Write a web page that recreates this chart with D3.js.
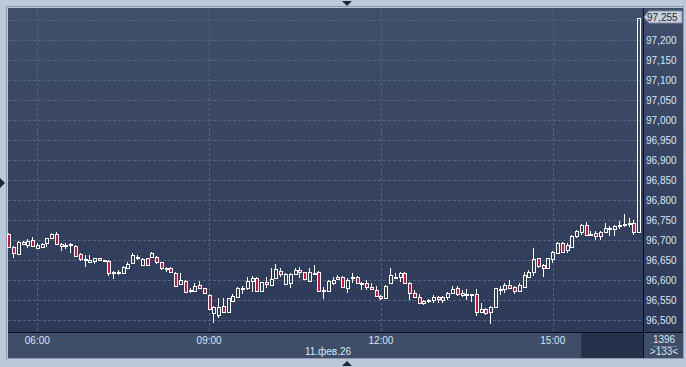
<!DOCTYPE html>
<html>
<head>
<meta charset="utf-8">
<script src="https://cdn.jsdelivr.net/npm/d3@7"></script>
<style>
    body { margin: 0; background: #bdc8d8; }
    svg { display: block; }
    text { font-family: "Liberation Sans", Arial, sans-serif; }
</style>
</head>
<body>
<script>

// 5-minute bars, 11.02.2026, 05:30 .. 16:30
var opens = [96715, 96683, 96664, 96695, 96687, 96700, 96679, 96683, 96693, 96704,
    96715, 96690, 96685, 96690, 96685, 96665, 96652, 96646, 96648, 96654,
    96649, 96648, 96618, 96619, 96617, 96629, 96643, 96658, 96637, 96654,
    96657, 96658, 96644, 96629, 96630, 96618, 96589, 96598, 96573, 96573,
    96588, 96579, 96563, 96518, 96512, 96535, 96521, 96548, 96558, 96578,
    96579, 96598, 96604, 96573, 96595, 96587, 96604, 96623, 96590, 96592,
    96615, 96625, 96619, 96598, 96616, 96619, 96573, 96572, 96592, 96602,
    96607, 96579, 96606, 96607, 96591, 96593, 96582, 96575, 96560, 96554,
    96592, 96608, 96607, 96617, 96592, 96568, 96557, 96543, 96548, 96550,
    96557, 96550, 96558, 96567, 96579, 96568, 96564, 96565, 96564, 96521,
    96527, 96521, 96532, 96576, 96577, 96587, 96582, 96573, 96583, 96608,
    96621, 96654, 96637, 96629, 96652, 96668, 96693, 96675, 96683, 96710,
    96721, 96738, 96714, 96717, 96710, 96721, 96730, 96727, 96737, 96739,
    96741, 96742, 96721];
var highs = [96718, 96685, 96698, 96698, 96702, 96708, 96692, 96693, 96706, 96718,
    96720, 96692, 96693, 96692, 96687, 96667, 96663, 96663, 96656, 96656,
    96650, 96650, 96623, 96625, 96634, 96644, 96667, 96662, 96655, 96656,
    96671, 96660, 96646, 96633, 96632, 96620, 96617, 96600, 96579, 96592,
    96598, 96581, 96565, 96535, 96554, 96554, 96556, 96565, 96582, 96585,
    96608, 96610, 96608, 96596, 96608, 96629, 96640, 96629, 96617, 96617,
    96631, 96632, 96621, 96629, 96637, 96623, 96583, 96600, 96608, 96612,
    96610, 96604, 96617, 96610, 96596, 96600, 96593, 96586, 96562, 96587,
    96629, 96617, 96619, 96619, 96594, 96575, 96565, 96550, 96552, 96563,
    96560, 96560, 96569, 96585, 96585, 96575, 96577, 96566, 96577, 96542,
    96529, 96534, 96581, 96585, 96592, 96600, 96584, 96592, 96621, 96625,
    96679, 96656, 96640, 96656, 96673, 96695, 96695, 96692, 96712, 96725,
    96740, 96746, 96723, 96723, 96723, 96742, 96735, 96738, 96748, 96765,
    96754, 96750, 97255];
var lows = [96680, 96654, 96662, 96688, 96679, 96683, 96677, 96680, 96683, 96703,
    96688, 96673, 96677, 96668, 96658, 96648, 96633, 96643, 96640, 96648,
    96646, 96610, 96603, 96612, 96615, 96628, 96641, 96650, 96635, 96635,
    96655, 96640, 96625, 96621, 96618, 96583, 96588, 96569, 96568, 96571,
    96577, 96565, 96525, 96492, 96504, 96519, 96519, 96546, 96556, 96565,
    96576, 96571, 96570, 96571, 96579, 96585, 96602, 96608, 96588, 96581,
    96613, 96604, 96600, 96596, 96612, 96571, 96552, 96570, 96587, 96600,
    96579, 96567, 96592, 96590, 96575, 96575, 96575, 96558, 96550, 96552,
    96590, 96602, 96596, 96590, 96550, 96555, 96540, 96538, 96543, 96543,
    96543, 96542, 96550, 96565, 96560, 96558, 96550, 96546, 96510, 96519,
    96512, 96490, 96530, 96562, 96568, 96577, 96564, 96571, 96579, 96606,
    96610, 96629, 96608, 96627, 96642, 96666, 96668, 96668, 96681, 96704,
    96713, 96710, 96710, 96700, 96700, 96717, 96710, 96710, 96727, 96732,
    96733, 96713, 96719];
var closes = [96683, 96667, 96696, 96690, 96698, 96685, 96688, 96690, 96704, 96715,
    96690, 96685, 96688, 96688, 96660, 96652, 96653, 96650, 96654, 96650,
    96648, 96618, 96619, 96620, 96632, 96640, 96662, 96654, 96652, 96637,
    96667, 96644, 96629, 96630, 96620, 96585, 96600, 96571, 96574, 96585,
    96579, 96567, 96527, 96532, 96532, 96521, 96554, 96560, 96579, 96579,
    96597, 96606, 96572, 96594, 96589, 96602, 96627, 96615, 96614, 96614,
    96625, 96619, 96602, 96619, 96617, 96573, 96574, 96597, 96600, 96607,
    96583, 96600, 96607, 96592, 96592, 96582, 96577, 96560, 96554, 96585,
    96612, 96604, 96617, 96592, 96568, 96557, 96542, 96548, 96549, 96557,
    96552, 96557, 96567, 96578, 96565, 96562, 96565, 96564, 96521, 96527,
    96517, 96532, 96579, 96577, 96587, 96579, 96573, 96588, 96612, 96621,
    96652, 96635, 96629, 96654, 96671, 96693, 96671, 96688, 96710, 96723,
    96738, 96713, 96715, 96710, 96721, 96729, 96731, 96736, 96738, 96740,
    96742, 96721, 97255];

var priceTicks = [96500, 96550, 96600, 96650, 96700, 96750, 96800, 96850,
    96900, 96950, 97000, 97050, 97100, 97150, 97200];
var timeTicks = ["06:00", "09:00", "12:00", "15:00"];
var dateLabel = "11.фев.26";
var lastPrice = 97255;
var barCount = 133;
var volumeLabel = "1396";

window.onload = function() {

    var width = 686,
        height = 367;

    // Panel geometry
    var plot = { left: 8, top: 8, right: 643, bottom: 332 };
    var axisRight = 683;
    var axisBottom = 358;

    var parse = d3.timeParse("%Y-%m-%d %H:%M");
    var day = "2026-02-11 ";
    var times = d3.timeMinute.every(5).range(parse(day + "05:30"), parse(day + "16:35"));

    var bars = times.map(function(t, i) {
        return { t: t, o: opens[i], h: highs[i], l: lows[i], c: closes[i] };
    });

    var xScale = d3.scaleTime()
        .domain([parse(day + "05:30"), parse(day + "16:30")])
        .range([8.7, 638.6]);

    var yScale = d3.scaleLinear()
        .domain([96500, 97200])
        .range([320, 40]);

    var svg = d3.select("body").append("svg")
        .attr("width", width)
        .attr("height", height);

    var defs = svg.append("defs");
    var grad = defs.append("linearGradient")
        .attr("id", "bg")
        .attr("x1", 0).attr("y1", 0).attr("x2", 0).attr("y2", 1);
    grad.append("stop").attr("offset", "0%").attr("stop-color", "#3f4e6a");
    grad.append("stop").attr("offset", "100%").attr("stop-color", "#2c3958");

    // Outer frame
    svg.append("rect")
        .attr("x", 0).attr("y", 0)
        .attr("width", width).attr("height", height)
        .attr("fill", "#bdc8d8");

    svg.append("rect")
        .attr("x", plot.left - 1.5).attr("y", plot.top - 1.5)
        .attr("width", axisRight - plot.left + 2).attr("height", axisBottom - plot.top + 2)
        .attr("fill", "none")
        .attr("stroke", "#8d9ab0");

    // Plot background
    svg.append("rect")
        .attr("x", plot.left).attr("y", plot.top)
        .attr("width", axisRight - plot.left).attr("height", plot.bottom - plot.top)
        .attr("fill", "url(#bg)");

    // Time axis panel
    svg.append("rect")
        .attr("x", plot.left).attr("y", plot.bottom)
        .attr("width", axisRight - plot.left).attr("height", axisBottom - plot.bottom)
        .attr("fill", "#3e4d68");

    svg.append("rect")
        .attr("x", 582).attr("y", plot.bottom + 1)
        .attr("width", plot.right - 582).attr("height", axisBottom - plot.bottom - 1)
        .attr("fill", "#26314b");

    svg.append("line")
        .attr("x1", 581.5).attr("x2", 581.5)
        .attr("y1", plot.bottom + 2).attr("y2", axisBottom - 1)
        .attr("stroke", "#2a3450");

    // Grid
    var grid = svg.append("g")
        .attr("stroke", "#53627f")
        .attr("stroke-dasharray", "3,2")
        .attr("stroke-width", 1);

    grid.selectAll(".hgrid")
        .data(priceTicks.concat([97250]))
        .enter()
        .append("line")
        .attr("x1", plot.left)
        .attr("x2", plot.right)
        .attr("y1", function(d) { return Math.round(yScale(d)) + 0.5; })
        .attr("y2", function(d) { return Math.round(yScale(d)) + 0.5; });

    grid.selectAll(".vgrid")
        .data(timeTicks)
        .enter()
        .append("line")
        .attr("x1", function(d) { return Math.round(xScale(parse(day + d))) + 0.5; })
        .attr("x2", function(d) { return Math.round(xScale(parse(day + d))) + 0.5; })
        .attr("y1", plot.top)
        .attr("y2", plot.bottom);

    // Separators
    svg.append("line")
        .attr("x1", plot.left).attr("x2", axisRight)
        .attr("y1", plot.bottom + 0.5).attr("y2", plot.bottom + 0.5)
        .attr("stroke", "#0b0f18");
    svg.append("line")
        .attr("x1", plot.right + 0.5).attr("x2", plot.right + 0.5)
        .attr("y1", plot.top).attr("y2", axisBottom)
        .attr("stroke", "#0b0f18");

    // Candles
    var candles = svg.append("g")
        .attr("class", "candles");

    bars.forEach(function(d) {
        var left = Math.floor(xScale(d.t)) - 1;
        var top = Math.round(yScale(Math.max(d.o, d.c)));
        var bottom = Math.round(yScale(Math.min(d.o, d.c)));
        var h = Math.max(bottom - top, 1);
        var wx = left + 1.5;

        candles.append("line")
            .attr("x1", wx).attr("x2", wx)
            .attr("y1", Math.round(yScale(d.h)))
            .attr("y2", top)
            .attr("stroke", "#ffffff");

        candles.append("line")
            .attr("x1", wx).attr("x2", wx)
            .attr("y1", top + h + 1)
            .attr("y2", Math.round(yScale(d.l)))
            .attr("stroke", "#ffffff");

        candles.append("rect")
            .attr("x", left + 0.5)
            .attr("y", top + 0.5)
            .attr("width", 3)
            .attr("height", h)
            .attr("fill", d.c < d.o ? "#d5103c" : "none")
            .attr("stroke", "#ffffff")
            .attr("stroke-width", 1);
    });

    // Price axis labels
    svg.append("g")
        .selectAll("text")
        .data(priceTicks)
        .enter()
        .append("text")
        .attr("x", 646)
        .attr("y", function(d) { return yScale(d) + 4; })
        .attr("font-size", "10px")
        .attr("fill", "#d9e5f7")
        .text(function(d) { return d3.format(",")(d); });

    // Last price marker
    var ly = Math.round(yScale(lastPrice));
    svg.append("path")
        .attr("d", "M644," + (ly - 1) + "L649," + (ly - 7) + "H682V" + (ly + 5) + "H649Z")
        .attr("fill", "#c9d1dc")
        .attr("stroke", "#7f8ca2");
    svg.append("text")
        .attr("x", 647)
        .attr("y", ly + 3)
        .attr("font-size", "10px")
        .attr("fill", "#1c2537")
        .text(d3.format(",")(lastPrice));

    // Time axis labels
    svg.append("g")
        .selectAll("text")
        .data(timeTicks)
        .enter()
        .append("text")
        .attr("x", function(d) { return xScale(parse(day + d)); })
        .attr("y", 344)
        .attr("text-anchor", "middle")
        .attr("font-size", "10px")
        .attr("fill", "#d9e5f7")
        .text(function(d) { return d; });

    svg.append("text")
        .attr("x", 328)
        .attr("y", 355)
        .attr("text-anchor", "middle")
        .attr("font-size", "10px")
        .attr("fill", "#d9e5f7")
        .text(dateLabel);

    // Bottom right counters
    svg.append("text")
        .attr("x", 664)
        .attr("y", 343)
        .attr("text-anchor", "middle")
        .attr("font-size", "10px")
        .attr("fill", "#d9e5f7")
        .text(volumeLabel);
    svg.append("line")
        .attr("x1", 653).attr("x2", 677)
        .attr("y1", 346.5).attr("y2", 346.5)
        .attr("stroke", "#6f7f9a");
    svg.append("text")
        .attr("x", 664)
        .attr("y", 355)
        .attr("text-anchor", "middle")
        .attr("font-size", "10px")
        .attr("fill", "#d9e5f7")
        .text(">" + barCount + "<");

    // Scroll markers
    var marker = "#1f2a3f";
    svg.append("path").attr("d", "M342,1H352L347,6Z").attr("fill", marker);
    svg.append("path").attr("d", "M342,366H352L347,361Z").attr("fill", marker);
    svg.append("path").attr("d", "M0,178V188L5,183Z").attr("fill", marker);
};
</script>
</body>
</html>
